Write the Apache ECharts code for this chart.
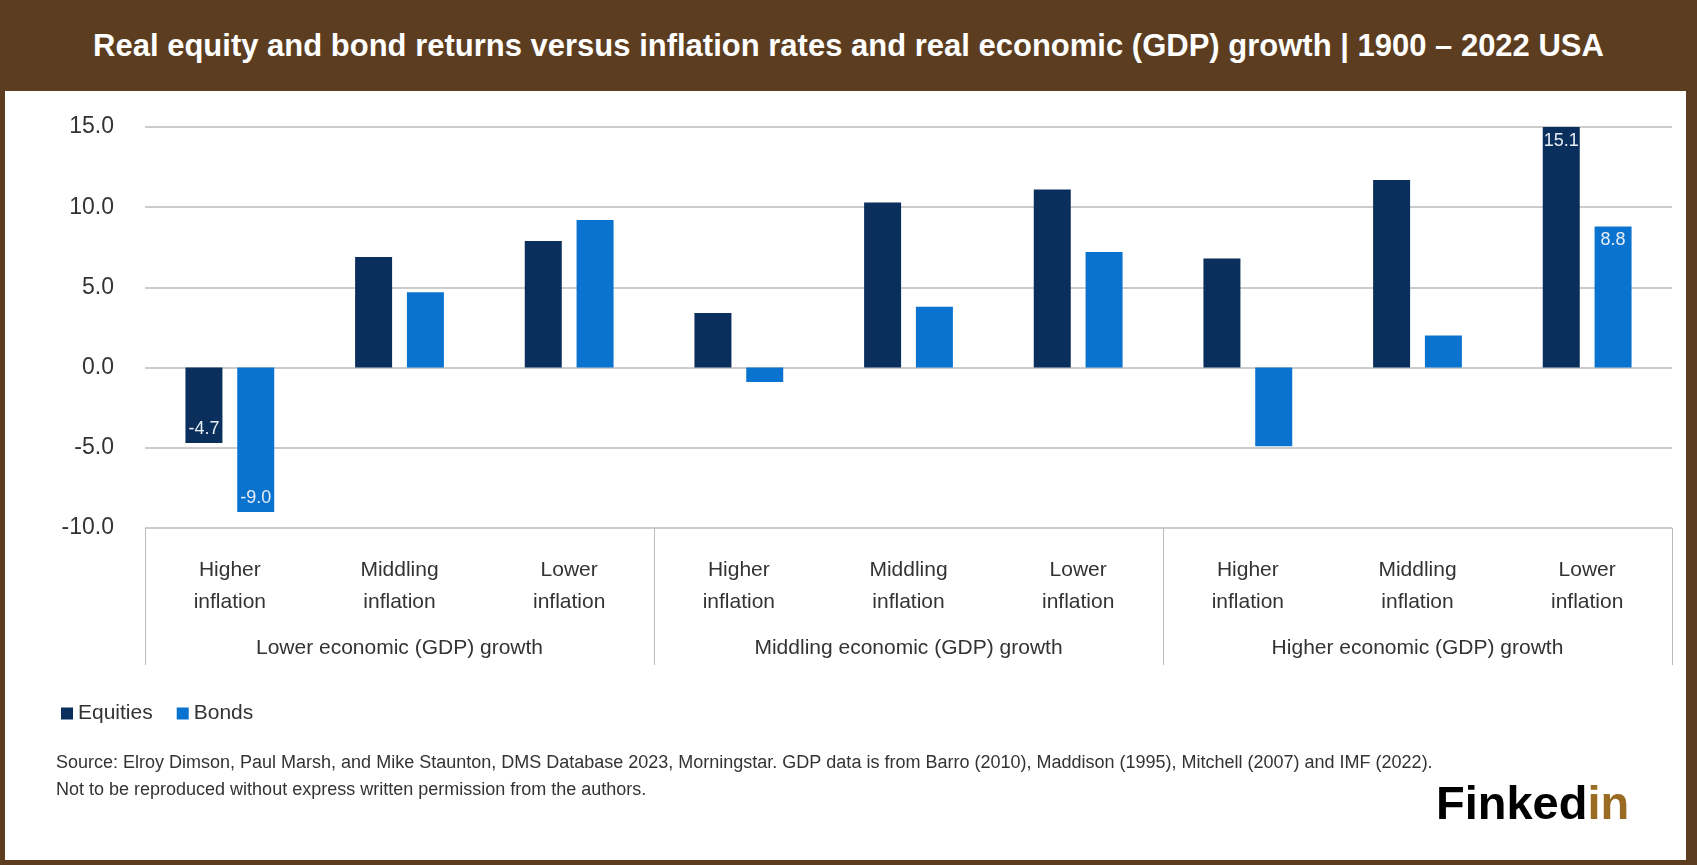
<!DOCTYPE html>
<html><head><meta charset="utf-8">
<script src="https://cdn.jsdelivr.net/npm/echarts@6/dist/echarts.min.js"></script>
<style>html,body{margin:0;padding:0;background:#5c3d20}
#wrap{position:absolute;left:5px;top:91px;width:1681px;height:769px;background:#fff}
#title{position:absolute;left:0;top:0;width:1697px;height:91px;text-align:center;color:#fff;font-weight:bold;font-size:31px;font-family:"Liberation Sans",Arial,sans-serif;line-height:91px}
#c{position:absolute;left:0;top:0;width:1697px;height:865px}</style></head>
<body><div id="title">Real equity and bond returns versus inflation rates and real economic (GDP) growth | 1900 – 2022 USA</div><div id="wrap"></div><div id="c"></div>
<script>
const categories=["Higher\ninflation","Middling\ninflation","Lower\ninflation","Higher\ninflation","Middling\ninflation","Lower\ninflation","Higher\ninflation","Middling\ninflation","Lower\ninflation"];
const groups=["Lower economic (GDP) growth","Middling economic (GDP) growth","Higher economic (GDP) growth"];
const equities=[-4.7,6.9,7.9,3.4,10.3,11.1,6.8,11.7,15.1];
const bonds=[-9.0,4.7,9.2,-0.9,3.8,7.2,-4.9,2.0,8.8];
const labeledEq=[0,8], labeledBd=[0,8];
const F='"Liberation Sans",Arial,sans-serif';
function mk(arr,lab){return arr.map((v,i)=>lab.includes(i)?{value:v,label:{show:true,position:v<0?'insideBottom':'insideTop',color:'#e8eef5',fontSize:18,fontFamily:F,formatter:p=>p.value.toFixed(1),distance:5}}:v);}
const ch=echarts.init(document.getElementById('c'));
ch.setOption({
 animation:false,
 grid:{left:145,right:25,top:127,bottom:337},
 xAxis:[{type:'category',data:categories,axisLine:{show:false},axisTick:{show:false},
   axisLabel:{color:'#333',fontSize:21,fontFamily:F,lineHeight:32,margin:26,interval:0}},
  {type:'category',data:groups,position:'bottom',axisLine:{show:false},
   axisTick:{show:true,length:137,lineStyle:{color:'#bbb'}},
   axisLabel:{color:'#333',fontSize:21,fontFamily:F,margin:110}}],
 yAxis:{type:'value',min:-10,max:15,interval:5,axisLabel:{color:'#333',fontSize:23,fontFamily:F,margin:31,formatter:v=>v.toFixed(1)},
   splitLine:{lineStyle:{color:'#ccc',width:2}}},
 legend:{left:56,top:698,itemWidth:12,itemHeight:12,itemGap:24,icon:'rect',textStyle:{color:'#333',fontSize:21,fontFamily:F}},
 series:[{name:'Equities',type:'bar',data:mk(equities,labeledEq),itemStyle:{color:'#0b2f5c'},barWidth:37,barGap:'40%'},
  {name:'Bonds',type:'bar',data:mk(bonds,labeledBd),itemStyle:{color:'#0a73d0'},barWidth:37}],
 graphic:[{type:'text',left:56,top:750,style:{text:'Source: Elroy Dimson, Paul Marsh, and Mike Staunton, DMS Database 2023, Morningstar. GDP data is from Barro (2010), Maddison (1995), Mitchell (2007) and IMF (2022).\nNot to be reproduced without express written permission from the authors.',fill:'#333',fontSize:18,fontFamily:F,lineHeight:27}},
  {type:'text',left:1436,top:783,style:{rich:{a:{fill:'#000',fontSize:47,fontWeight:'bold',fontFamily:F},b:{fill:'#9a6b22',fontSize:47,fontWeight:'bold',fontFamily:F}},text:'{a|Finked}{b|in}'}}]
});
</script></body></html>
